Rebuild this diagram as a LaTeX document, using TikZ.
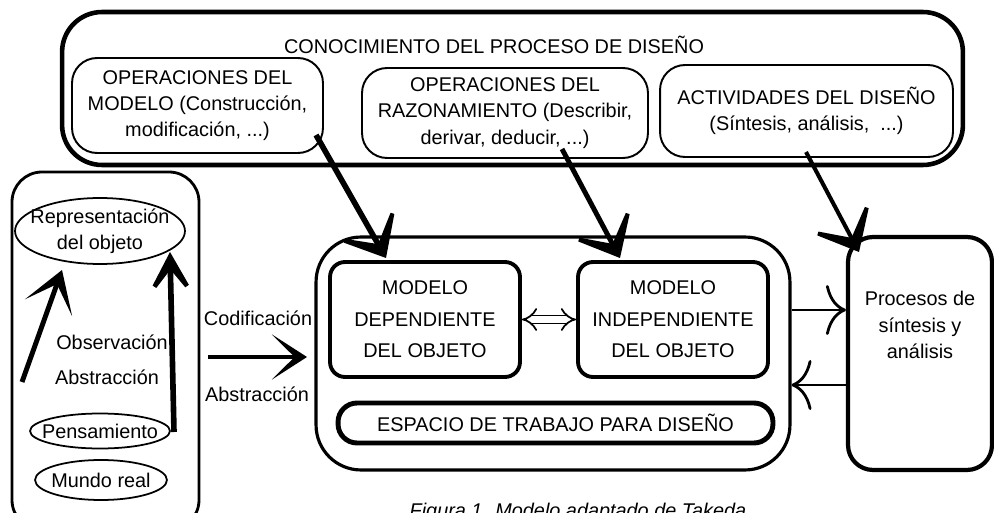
\documentclass[tikz,border=0pt]{standalone}
\usepackage{fontspec}
\setmainfont{Liberation Sans}
\usetikzlibrary{arrows.meta}

\tikzset{
  txt/.style={font=\fontsize{11.3}{15}\selectfont, align=center, inner sep=0pt},
  opbox/.style={txt, draw, line width=1.1pt, rounded corners=0.5cm},
  modbox/.style={txt, draw, line width=2.2pt, rounded corners=0.3cm, minimum width=3.8cm, minimum height=2.3cm, font=\fontsize{11.3}{18}\selectfont},
  bigarrow/.style={line width=3.2pt, -{Stealth[length=10mm,width=17mm,inset=6.8mm]}},
  uparrow/.style={line width=2.8pt, -{Stealth[length=9mm,width=11mm,inset=5.5mm]}},
  sidearrow/.style={line width=1.7pt, -{Computer Modern Rightarrow[length=4mm,width=10mm,line width=1.6pt]}}
}

\begin{document}
\begin{tikzpicture}[x=0.02cm, y=-0.02cm]
\useasboundingbox (0,0) rectangle (994,513);

%Draw Knowledge Box
\node[draw, line width=2.6pt, rounded corners=0.8cm, minimum width=18.02cm, minimum height=3.06cm] (conoc) at (512.5,88.5) {};
\node[txt] (titulo) at (494,45) {CONOCIMIENTO DEL PROCESO DE DISE\~NO};
\node[opbox, minimum width=5.02cm, minimum height=1.9cm] (opmodelo) at (197.5,105.5) {OPERACIONES DEL\\MODELO (Construcci\'on,\\modificaci\'on, ...)};
\node[opbox, minimum width=5.72cm, minimum height=1.8cm] (oprazon) at (505,113) {OPERACIONES DEL\\RAZONAMIENTO (Describir,\\derivar, deducir, ...)};
\node[opbox, minimum width=5.86cm, minimum height=1.84cm] (actdis) at (806.5,111) {ACTIVIDADES DEL DISE\~NO\\(S\'intesis, an\'alisis,\ \ ...)};

%Draw Left Box
\draw[line width=1.6pt, rounded corners=0.6cm] (12,172) rectangle (199,530);
\node[txt] (repr) at (100,231) {Representaci\'on\\del objeto};
\draw[line width=1pt] (repr.center) ellipse [x radius=1.7cm, y radius=0.66cm];
\node[txt] (observ) at (112,342) {Observaci\'on};
\node[txt] (abstr) at (107,377) {Abstracci\'on};
\node[txt] (pensa) at (100,431) {Pensamiento};
\draw[line width=1pt] (pensa.center) ellipse [x radius=1.4cm, y radius=0.35cm];
\node[txt] (mundo) at (101,480) {Mundo real};
\draw[line width=1pt] (mundo.center) ellipse [x radius=1.32cm, y radius=0.4cm];

\coordinate (a1) at (22,382);
\coordinate (a2) at (62,270);
\coordinate (b1) at (174,432);
\coordinate (b2) at (170,252);
\draw[uparrow, -{Stealth[length=8mm,width=10mm,inset=5mm]}] (a1) -- (a2);
\draw[uparrow, line width=3.2pt, -{Stealth[length=11mm,width=12mm,inset=7.5mm]}] (b1) -- (b2);

%Draw Coding Arrow
\node[txt] (codif) at (258,318) {Codificaci\'on};
\node[txt] (abstr2) at (257,394) {Abstracci\'on};
\coordinate (c1) at (208,357);
\coordinate (c2) at (307,357);
\draw[uparrow, -{Stealth[length=7mm,width=9mm,inset=4.5mm]}] (c1) -- (c2);

%Draw Work Space
\node[draw, line width=1.8pt, rounded corners=0.9cm, minimum width=9.48cm, minimum height=4.66cm] (espacio) at (553,353.5) {};
\node[modbox] (moddep) at (425,319.5) {MODELO\\DEPENDIENTE\\DEL OBJETO};
\node[modbox] (modind) at (673,319.5) {MODELO\\INDEPENDIENTE\\DEL OBJETO};
\draw[double, double distance=3.5pt, line width=1pt, {Implies}-{Implies}] (moddep.east) -- (modind.west);
\node[txt, draw, line width=2.8pt, rounded corners=0.38cm, minimum width=8.7cm, minimum height=0.8cm] (trabajo) at (555.5,423) {ESPACIO DE TRABAJO PARA DISE\~NO};

%Draw Process Box
\node[draw, line width=2.4pt, rounded corners=0.5cm, minimum width=2.88cm, minimum height=4.66cm] (procesos) at (920,353.5) {};
\node[txt] (proclbl) at (920,325) {Procesos de\\s\'intesis y\\an\'alisis};
\draw[sidearrow] (espacio.east |- 0,310) -- (procesos.west |- 0,310);
\draw[sidearrow] (procesos.west |- 0,385) -- (espacio.east |- 0,385);

%Draw Knowledge Arrows
\coordinate (d1) at (316,135);
\coordinate (d2) at (386,258);
\coordinate (e1) at (562,149);
\coordinate (e2) at (620,258);
\coordinate (f1) at (806,152);
\coordinate (f2) at (859,252);
\draw[bigarrow] (d1) -- (d2);
\draw[bigarrow, line width=2.8pt] (e1) -- (e2);
\draw[bigarrow, line width=2.3pt] (f1) -- (f2);

%Draw Caption
\node[txt, anchor=base, font=\fontsize{11.3}{15}\selectfont\itshape] (caption) at (578,517) {Figura 1. Modelo adaptado de Takeda};

\end{tikzpicture}
\end{document}
